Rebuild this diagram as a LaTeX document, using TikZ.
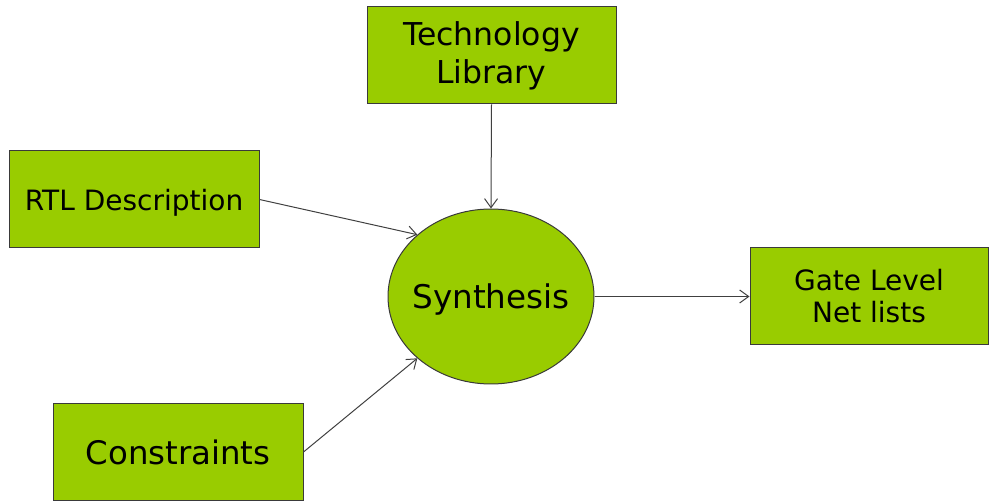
\documentclass[tikz,border=0pt]{standalone}
\usepackage{fontspec}
\setmainfont{DejaVu Sans}
\usetikzlibrary{arrows.meta,shapes.geometric}
\definecolor{boxgreen}{HTML}{99CC00}
\definecolor{edgegray}{HTML}{3A3A3A}
\definecolor{linegray}{HTML}{404040}
\tikzset{
  block/.style={draw=edgegray, line width=1pt, fill=boxgreen, rectangle,
    minimum height=97pt, inner sep=0pt, align=center, text=black},
  synth/.style={draw=edgegray, line width=1pt, fill=boxgreen, ellipse,
    minimum width=206pt, minimum height=175pt, inner xsep=-12pt, inner ysep=0pt,
    text depth=0pt, text=black},
  flow/.style={draw=linegray, line width=1pt,
    -{Straight Barb[length=9pt,width=13pt,line width=1pt]}}
}
\begin{document}
\begin{tikzpicture}[x=1pt,y=-1pt]
  \useasboundingbox (0,0) rectangle (989,502);

  \node[synth, font=\fontsize{32.6}{38}\selectfont] (syn) at (491,296.5) {Synthesis};

  \node[block, minimum width=249pt, font=\fontsize{31.5}{38}\selectfont]
    (tech) at (491.5,55.5) {Technology\\Library};
  \node[block, minimum width=250pt, text depth=0pt, font=\fontsize{28}{32}\selectfont]
    (rtl) at (134,199.5) {RTL Description};
  \node[block, minimum width=250pt, text depth=0pt, font=\fontsize{32.4}{38}\selectfont]
    (con) at (178,452) {Constraints};
  \node[block, minimum width=238pt, font=\fontsize{28}{32}\selectfont]
    (gate) at (869,296.5) {Gate Level\\Net lists};

  \draw[flow] (tech.south) -- (syn.90);
  \draw[flow] (rtl.east) -- (syn.140);
  \draw[flow] (con.east) -- (syn.220);
  \draw[flow] (syn.east) -- (gate.west);
\end{tikzpicture}
\end{document}
